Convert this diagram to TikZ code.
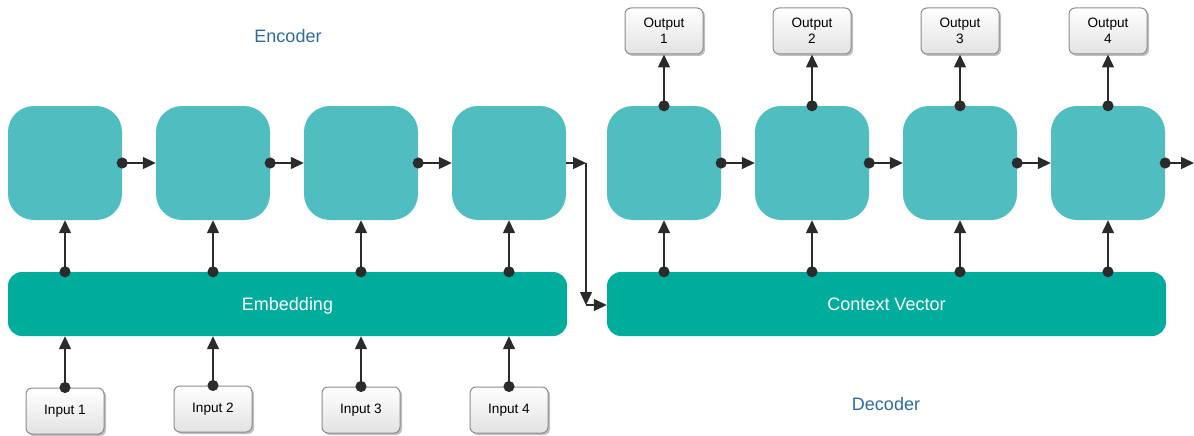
\documentclass[tikz,border=0pt]{standalone}
\usepackage{fontspec}
\setmainfont{Liberation Sans}
\usetikzlibrary{arrows.meta,shadows}
\definecolor{cellc}{HTML}{50BDC0}
\definecolor{barc}{HTML}{00AC9B}
\definecolor{lbl}{HTML}{2D6BA3}
\definecolor{ink}{HTML}{2B2B2B}
\definecolor{iob}{HTML}{8C8C8C}
\definecolor{iog}{HTML}{E2E2E2}
\begin{document}
\begin{tikzpicture}[x=1pt,y=-1pt,
  cell/.style={fill=cellc,draw=none,rounded corners=26pt,minimum width=114pt,minimum height=114pt,inner sep=0pt},
  bar/.style={fill=barc,draw=none,rounded corners=14pt,minimum width=559pt,minimum height=64pt,inner sep=0pt,text height=13pt,text depth=0pt,text=white,font=\fontsize{18}{21}\selectfont},
  io/.style={draw=iob,line width=1pt,rounded corners=6pt,top color=white,bottom color=iog,minimum width=78pt,minimum height=46pt,inner sep=0pt,align=center,font=\fontsize{13.6}{16.5}\selectfont,drop shadow={shadow xshift=2pt,shadow yshift=-2pt,opacity=0.25,fill=black}},
  lab/.style={text=lbl,font=\fontsize{18}{21}\selectfont},
  con/.style={draw=ink,line width=1.4pt,{Circle[length=11pt,width=11pt]}-{Triangle[length=13pt,width=12pt]},shorten <=-5.5pt},
  plain/.style={draw=ink,line width=1.4pt,-{Triangle[length=13pt,width=12pt]}}
]
\useasboundingbox[fill=white] (0,0) rectangle (1194,436);

% encoder cells
\node[cell] (e1) at (65,163) {};
\node[cell] (e2) at (213,163) {};
\node[cell] (e3) at (361,163) {};
\node[cell] (e4) at (509,163) {};
% decoder cells
\node[cell] (d1) at (664,163) {};
\node[cell] (d2) at (812,163) {};
\node[cell] (d3) at (960,163) {};
\node[cell] (d4) at (1108,163) {};

% bars
\node[bar] (emb) at (287.5,304) {Embedding};
\node[bar] (ctx) at (886.5,304) {Context Vector};

% inputs
\node[io] (i1) at (65,411) {Input 1};
\node[io] (i2) at (213,409) {Input 2};
\node[io] (i3) at (361,410) {Input 3};
\node[io] (i4) at (509,410) {Input 4};

% outputs
\node[io] (o1) at (664,31) {Output\\1};
\node[io] (o2) at (812,31) {Output\\2};
\node[io] (o3) at (960,31) {Output\\3};
\node[io] (o4) at (1108,31) {Output\\4};

% labels
\node[lab] (enc) at (288,36) {Encoder};
\node[lab] (dec) at (886,404) {Decoder};

% coordinates
\coordinate (c1) at (586,163);
\coordinate (c2) at (586,305);
\coordinate (out) at (1194,163);

% recurrent connections
\draw[con] (e1.east) -- (e2.west);
\draw[con] (e2.east) -- (e3.west);
\draw[con] (e3.east) -- (e4.west);
\draw[con] (d1.east) -- (d2.west);
\draw[con] (d2.east) -- (d3.west);
\draw[con] (d3.east) -- (d4.west);
\draw[con] (d4.east) -- (out);

% encoder to context
\draw[plain] (e4.east) -- (c1);
\draw[plain] (c1) -- (c2);
\draw[plain] (c2) -- (ctx.west |- c2);

% embedding to encoder cells
\draw[con] (emb.north -| e1) -- (e1.south);
\draw[con] (emb.north -| e2) -- (e2.south);
\draw[con] (emb.north -| e3) -- (e3.south);
\draw[con] (emb.north -| e4) -- (e4.south);
% context to decoder cells
\draw[con] (ctx.north -| d1) -- (d1.south);
\draw[con] (ctx.north -| d2) -- (d2.south);
\draw[con] (ctx.north -| d3) -- (d3.south);
\draw[con] (ctx.north -| d4) -- (d4.south);

% inputs to embedding
\draw[con] (i1.north) -- (emb.south -| i1);
\draw[con] (i2.north) -- (emb.south -| i2);
\draw[con] (i3.north) -- (emb.south -| i3);
\draw[con] (i4.north) -- (emb.south -| i4);

% decoder cells to outputs
\draw[con] (d1.north) -- (o1.south);
\draw[con] (d2.north) -- (o2.south);
\draw[con] (d3.north) -- (o3.south);
\draw[con] (d4.north) -- (o4.south);
\end{tikzpicture}
\end{document}
